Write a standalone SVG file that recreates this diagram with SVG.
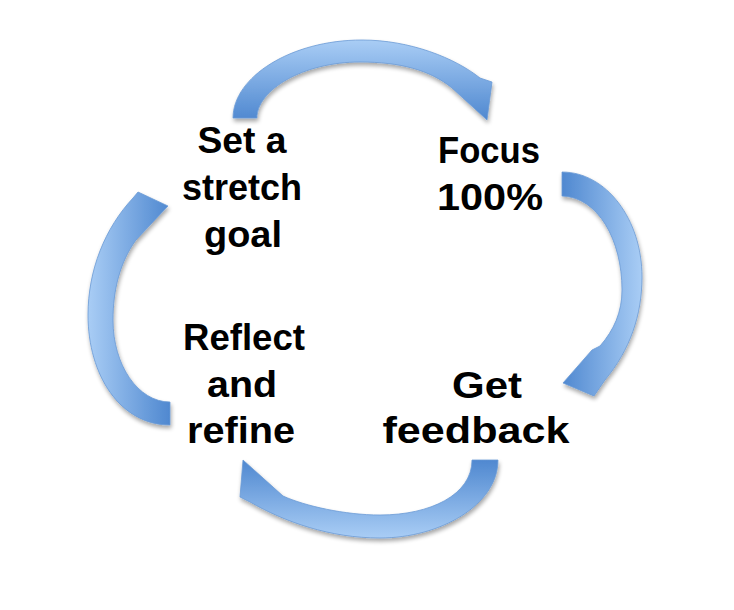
<svg xmlns="http://www.w3.org/2000/svg" width="734" height="610" viewBox="0 0 734 610">
<defs>
<linearGradient id="gTop" x1="0" y1="0" x2="0" y2="1"><stop offset="0" stop-color="#a9cdf5"/><stop offset="1" stop-color="#4f88d0"/></linearGradient>
<linearGradient id="gRight" x1="0" y1="0" x2="1" y2="0"><stop offset="0" stop-color="#4f88d0"/><stop offset="1" stop-color="#a9cdf5"/></linearGradient>
<linearGradient id="gBottom" x1="0" y1="0" x2="0" y2="1"><stop offset="0" stop-color="#4f88d0"/><stop offset="1" stop-color="#a9cdf5"/></linearGradient>
<linearGradient id="gLeft" x1="0" y1="0" x2="1" y2="0"><stop offset="0" stop-color="#a9cdf5"/><stop offset="1" stop-color="#4f88d0"/></linearGradient>
<filter id="sh" x="-20%" y="-20%" width="140%" height="140%">
<feGaussianBlur in="SourceAlpha" stdDeviation="2"/>
<feOffset dx="1" dy="3" result="b"/>
<feComponentTransfer><feFuncA type="linear" slope="0.35"/></feComponentTransfer>
<feMerge><feMergeNode/><feMergeNode in="SourceGraphic"/></feMerge>
</filter>
</defs>
<style>
.arrow{stroke:#6b9ad5;stroke-width:0.8;filter:url(#sh)}
.lbl{font-family:"Liberation Sans",Arial,sans-serif;font-weight:bold;font-size:36px;fill:#000;text-anchor:middle}
</style>
<g id="connectors">
<path class="arrow" fill="url(#gTop)" d="M233,118 C233,77 291,40 362,40 C410,40 455,58 480,78 L492,82 L487,120 L452,88 C430,70 400,62 360,62 C303,62 257,90 257,118 Z"/>
<path class="arrow" fill="url(#gRight)" d="M562,172 C606,172 642,219 642,277 C642,315 630,350 605,380 L594,396 L563,383 L592,350 L600,346 C614,330 622,312 622,290 C622,240 598,197 562,196 Z"/>
<path class="arrow" fill="url(#gBottom)" d="M498,460 C498,505 440,538 380,538 C330,538 285,522 250,502 L240,497 L243,460 L283,496 C305,506 345,515 380,515 C430,515 472,495 472,460 Z"/>
<path class="arrow" fill="url(#gLeft)" d="M170,425 C120,425 88,375 88,315 C88,270 105,228 133,198 L138,192 L168,206 L136,240 C120,262 113,290 113,320 C113,365 138,402 170,402 Z"/>
</g>
<g id="n1"><text class="lbl" x="242" y="153" textLength="89" lengthAdjust="spacingAndGlyphs">Set a</text><text class="lbl" x="242" y="200" textLength="120" lengthAdjust="spacingAndGlyphs">stretch</text><text class="lbl" x="243" y="247" textLength="78" lengthAdjust="spacingAndGlyphs">goal</text></g>
<g id="n2"><text class="lbl" x="489" y="163" textLength="102" lengthAdjust="spacingAndGlyphs">Focus</text><text class="lbl" x="490" y="210" textLength="106" lengthAdjust="spacingAndGlyphs">100%</text></g>
<g id="n3"><text class="lbl" x="487" y="398" textLength="70" lengthAdjust="spacingAndGlyphs">Get</text><text class="lbl" x="476" y="443" textLength="187" lengthAdjust="spacingAndGlyphs">feedback</text></g>
<g id="n4"><text class="lbl" x="244" y="350" textLength="122" lengthAdjust="spacingAndGlyphs">Reflect</text><text class="lbl" x="242" y="397" textLength="70" lengthAdjust="spacingAndGlyphs">and</text><text class="lbl" x="241" y="443" textLength="108" lengthAdjust="spacingAndGlyphs">refine</text></g>
</svg>
